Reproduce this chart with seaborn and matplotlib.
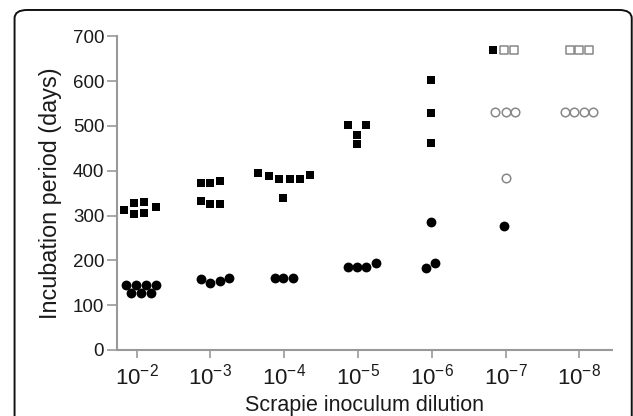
import matplotlib
matplotlib.use('Agg')
import matplotlib.pyplot as plt
from matplotlib.patches import FancyBboxPatch
import seaborn as sns
import pandas as pd

# Dilution columns (tick labels)
dilutions = ['$\\mathregular{10^{-2}}$', '$\\mathregular{10^{-3}}$', '$\\mathregular{10^{-4}}$',
             '$\\mathregular{10^{-5}}$', '$\\mathregular{10^{-6}}$', '$\\mathregular{10^{-7}}$',
             '$\\mathregular{10^{-8}}$']

# filled squares (x = column position incl. scatter spread, y = days)
sq_fill_x = [-0.17, -0.04, -0.04, 0.10, 0.10, 0.26,
             0.865, 0.99, 1.126, 0.865, 0.99, 1.126,
             1.642, 1.787, 1.927, 2.072, 2.207, 2.343, 1.99,
             2.858, 3.115, 2.988, 2.988,
             3.99, 3.99, 3.99,
             4.83]
sq_fill_days = [312, 329, 303, 331, 305, 319,
                372, 372, 378, 332, 325, 325,
                396, 388, 382, 382, 382, 391, 340,
                501, 501, 480, 459,
                603, 528, 463,
                670]

# open squares
sq_open_x = [4.98, 5.11, 5.87, 6.0, 6.13]
sq_open_days = [670, 670, 670, 670, 670]

# filled circles
ci_fill_x = [-0.145, -0.01, 0.126, 0.26, -0.077, 0.058, 0.194,
             0.865, 0.99, 1.126, 1.255,
             1.869, 1.99, 2.117,
             2.858, 2.988, 3.115, 3.25,
             3.99, 3.92, 4.04,
             4.98]
ci_fill_days = [144, 144, 144, 145, 127, 127, 127,
                158, 150, 154, 161,
                160, 160, 160,
                186, 186, 186, 194,
                286, 182, 194,
                277]

# open circles
ci_open_x = [4.86, 5.0, 5.13, 5.0, 5.8, 5.93, 6.06, 6.19]
ci_open_days = [530, 530, 530, 383, 530, 530, 530, 530]

sns.set_style('white')
plt.rcParams['font.family'] = ['Liberation Sans', 'DejaVu Sans']
plt.rcParams['mathtext.fontset'] = 'custom'
plt.rcParams['mathtext.rm'] = 'Liberation Sans'
plt.rcParams['mathtext.it'] = 'Liberation Sans:italic'
plt.rcParams['mathtext.bf'] = 'Liberation Sans:bold'

fig = plt.figure(figsize=(6.33, 4.16), dpi=100)
ax = fig.add_axes([0.1844, 0.1587, 0.782, 0.754])

# rounded frame around the panel
frame = FancyBboxPatch((0.023, -0.1), 0.975, 1.076, transform=fig.transFigure,
                       boxstyle='round,pad=0,rounding_size=0.02', fill=False,
                       edgecolor='#111111', linewidth=1.4, clip_on=False)
fig.patches.append(frame)

series = [
    (sq_fill_x, sq_fill_days, 's', 'black', 'black', 40, 0),
    (sq_open_x, sq_open_days, 's', 'white', '#888888', 32, 1.1),
    (ci_fill_x, ci_fill_days, 'o', 'black', 'black', 50, 0),
    (ci_open_x, ci_open_days, 'o', 'white', '#888888', 38, 1.1),
]
for xs, ys, m, fc, ec, s, lw in series:
    d = pd.DataFrame({'x': xs, 'days': ys})
    sns.scatterplot(data=d, x='x', y='days', ax=ax, marker=m, s=s,
                    color=fc, edgecolor=ec, linewidth=lw, zorder=3)

ax.set_xlim(-0.271, 6.44)
ax.set_ylim(0, 700)
ax.set_xticks(range(len(dilutions)))
ax.set_xticklabels(dilutions, fontsize=16, color='#1a1a1a')
ax.set_yticks(range(0, 701, 100))
ax.tick_params(axis='y', labelsize=13.5, colors='#999999', labelcolor='#1a1a1a',
               length=7, width=1.2, pad=2, left=True)
ax.tick_params(axis='x', colors='#999999', labelcolor='#1a1a1a',
               length=6, width=1.2, pad=4, bottom=True)
for side in ['top', 'right']:
    ax.spines[side].set_visible(False)
for side in ['left', 'bottom']:
    ax.spines[side].set_color('#999999')
    ax.spines[side].set_linewidth(1.5)

ax.set_xlabel('Scrapie inoculum dilution', fontsize=15.5, color='#1a1a1a', labelpad=4)
ax.set_ylabel('Incubation period (days)', fontsize=16.8, color='#1a1a1a', labelpad=8)

fig.savefig('out.png', dpi=100)
